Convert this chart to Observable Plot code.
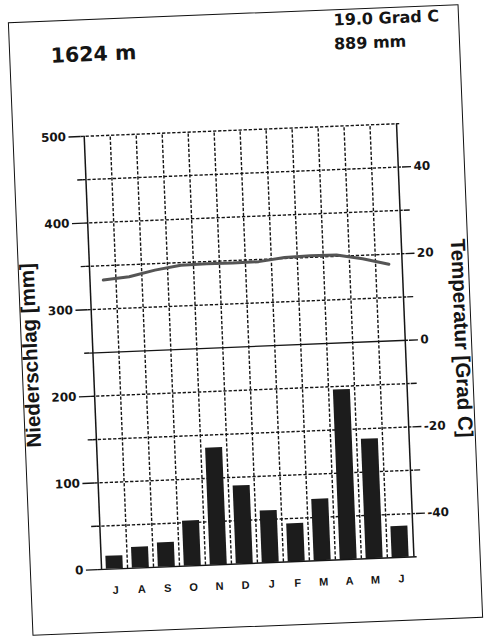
<!DOCTYPE html>
<html>
<head>
<meta charset="utf-8">
<script src="https://cdn.jsdelivr.net/npm/d3@7"></script>
<script src="https://cdn.jsdelivr.net/npm/@observablehq/plot@0.6"></script>
<style>
  html, body { margin: 0; padding: 0; background: #fff; }
  body { width: 486px; height: 641px; overflow: hidden; position: relative; }
  #sheet {
    position: absolute; left: 19.5px; top: 13px; width: 451px; height: 614px;
    transform: rotate(-2.3deg); transform-origin: 50% 50%; background: #fff;
  }
  #sheet svg { position: absolute; left: 0; top: 0; }
  #border { position: absolute; left: 0; top: 0; right: 0; bottom: 0; border: 1.5px solid #111; pointer-events: none; }
</style>
</head>
<body>
<div id="sheet"><div id="chart"></div><div id="border"></div></div>
<script>
// ---- data ----
const months = ["Jul","Aug","Sep","Oct","Nov","Dec","Jan","Feb","Mar","Apr","May","Jun"];
const monthLabels = ["J","A","S","O","N","D","J","F","M","A","M","J"];
const precipitation = [15, 24, 28, 52, 135, 90, 60, 44, 71, 196, 138, 36];   // mm
const temperature = [16.7, 17.2, 18.5, 19.4, 19.5, 19.4, 19.5, 20.2, 20.4, 20.3, 19.2, 17.7]; // Grad C
const precipTicks = [0, 100, 200, 300, 400, 500];
const precipMinorTicks = [50, 150, 250, 350, 450];
const tempTicks = [40, 20, 0, -20, -40];
const tempMinorTicks = [30, 10, -10, -30];
const gridLevels = [50, 100, 150, 200, 300, 350, 400, 450, 500];
const zeroLevel = [250];
const elevationText = "1624 m";
const meanTempText = "19.0 Grad C";
const annualPrecipText = "889 mm";
const precipTitle = "Niederschlag [mm]";
const tempTitle = "Temperatur [Grad C]";

// climate-diagram convention: 0 Grad C at 250 mm, 10 Grad C = 50 mm
const tempToMM = t => 250 + 5 * t;
const mmToTemp = mm => (mm - 250) / 5;

const data = months.map((m, i) => ({month: m, label: monthLabels[i], precip: precipitation[i], temp: temperature[i]}));

const W = 451, H = 614, mL = 68, mR = 64, mT = 116.5, mB = 64;
const step = (W - mL - mR) / months.length;
const ink = "#151515";
const dash = "3.3,1.8";
const tickFont = "'DejaVu Sans', sans-serif";

const chart = Plot.plot({
  width: W, height: H,
  marginLeft: mL, marginRight: mR, marginTop: mT, marginBottom: mB,
  style: {fontFamily: "'Liberation Sans', Arial, sans-serif", background: "transparent", color: ink, overflow: "visible"},
  x: {type: "band", domain: months, paddingInner: 0.36, paddingOuter: 0.18, axis: null},
  y: {domain: [0, 500], axis: null},
  marks: [
    // dashed grid
    Plot.ruleY(gridLevels, {stroke: ink, strokeWidth: 1.4, strokeDasharray: dash}),
    Plot.ruleX(months.slice(1), {x: d => d, y1: 0, y2: 500, dx: -step / 2, stroke: ink, strokeWidth: 1.4, strokeDasharray: dash}),
    // precipitation bars
    Plot.barY(data, {x: "month", y: "precip", fill: "#1c1c1c"}),
    // solid lines: baseline, 0 Grad C line, left & right axes
    Plot.ruleY([0], {stroke: ink, strokeWidth: 1.5}),
    Plot.ruleY(zeroLevel, {stroke: ink, strokeWidth: 1.3}),
    Plot.ruleX([months[0]], {x: d => d, y1: 0, y2: 500, dx: -step / 2, stroke: ink, strokeWidth: 1.5}),
    Plot.ruleX([months[months.length - 1]], {x: d => d, y1: 0, y2: 500, dx: step / 2, stroke: ink, strokeWidth: 1.5}),
    // left axis (precipitation)
    Plot.axisY({anchor: "left", ticks: precipTicks, tickSize: 12, tickPadding: 3, strokeWidth: 1.4,
      fontSize: 12, fontWeight: "bold", fontFamily: tickFont, label: null}),
    Plot.axisY({anchor: "left", ticks: precipMinorTicks, tickSize: 5, strokeWidth: 1.4, tickFormat: () => "", label: null}),
    // right axis (temperature)
    Plot.axisY({anchor: "right", ticks: tempTicks.map(tempToMM), tickSize: 9, tickPadding: 3, strokeWidth: 1.4,
      fontSize: 12, fontWeight: "bold", fontFamily: tickFont, tickFormat: d => String(Math.round(mmToTemp(d))), label: null}),
    Plot.axisY({anchor: "right", ticks: tempMinorTicks.map(tempToMM), tickSize: 6, strokeWidth: 1.4, tickFormat: () => "", label: null}),
    // temperature curve
    Plot.line(data, {x: "month", y: d => tempToMM(d.temp), stroke: "#555", strokeWidth: 3, strokeLinejoin: "round"}),
    // month labels
    Plot.text(data, {x: "month", text: "label", frameAnchor: "bottom", lineAnchor: "middle", dy: 21.5,
      fontSize: 11, fontWeight: "bold", fill: ink}),
    // axis titles
    Plot.text([precipTitle], {text: d => d, frameAnchor: "left", textAnchor: "middle", lineAnchor: "middle",
      dx: -59, rotate: -90, fontSize: 20.5, fontWeight: "bold", fill: ink}),
    Plot.text([tempTitle], {text: d => d, frameAnchor: "right", textAnchor: "middle", lineAnchor: "middle",
      dx: 53, rotate: 90, fontSize: 20.5, fontWeight: "bold", fill: ink}),
    // station info
    Plot.text([elevationText], {text: d => d, frameAnchor: "top-left", dx: -27, dy: -81.5, textAnchor: "start", lineAnchor: "middle",
      fontSize: 20.5, fontWeight: "bold", fontFamily: tickFont, fill: ink}),
    Plot.text([meanTempText], {text: d => d, frameAnchor: "top-left", dx: 257, dy: -105.8, textAnchor: "start", lineAnchor: "middle",
      fontSize: 16, fontWeight: "bold", fontFamily: tickFont, fill: ink}),
    Plot.text([annualPrecipText], {text: d => d, frameAnchor: "top-left", dx: 256.5, dy: -81.8, textAnchor: "start", lineAnchor: "middle",
      fontSize: 16, fontWeight: "bold", fontFamily: tickFont, fill: ink})
  ]
});
document.getElementById("chart").appendChild(chart);
</script>
</body>
</html>
